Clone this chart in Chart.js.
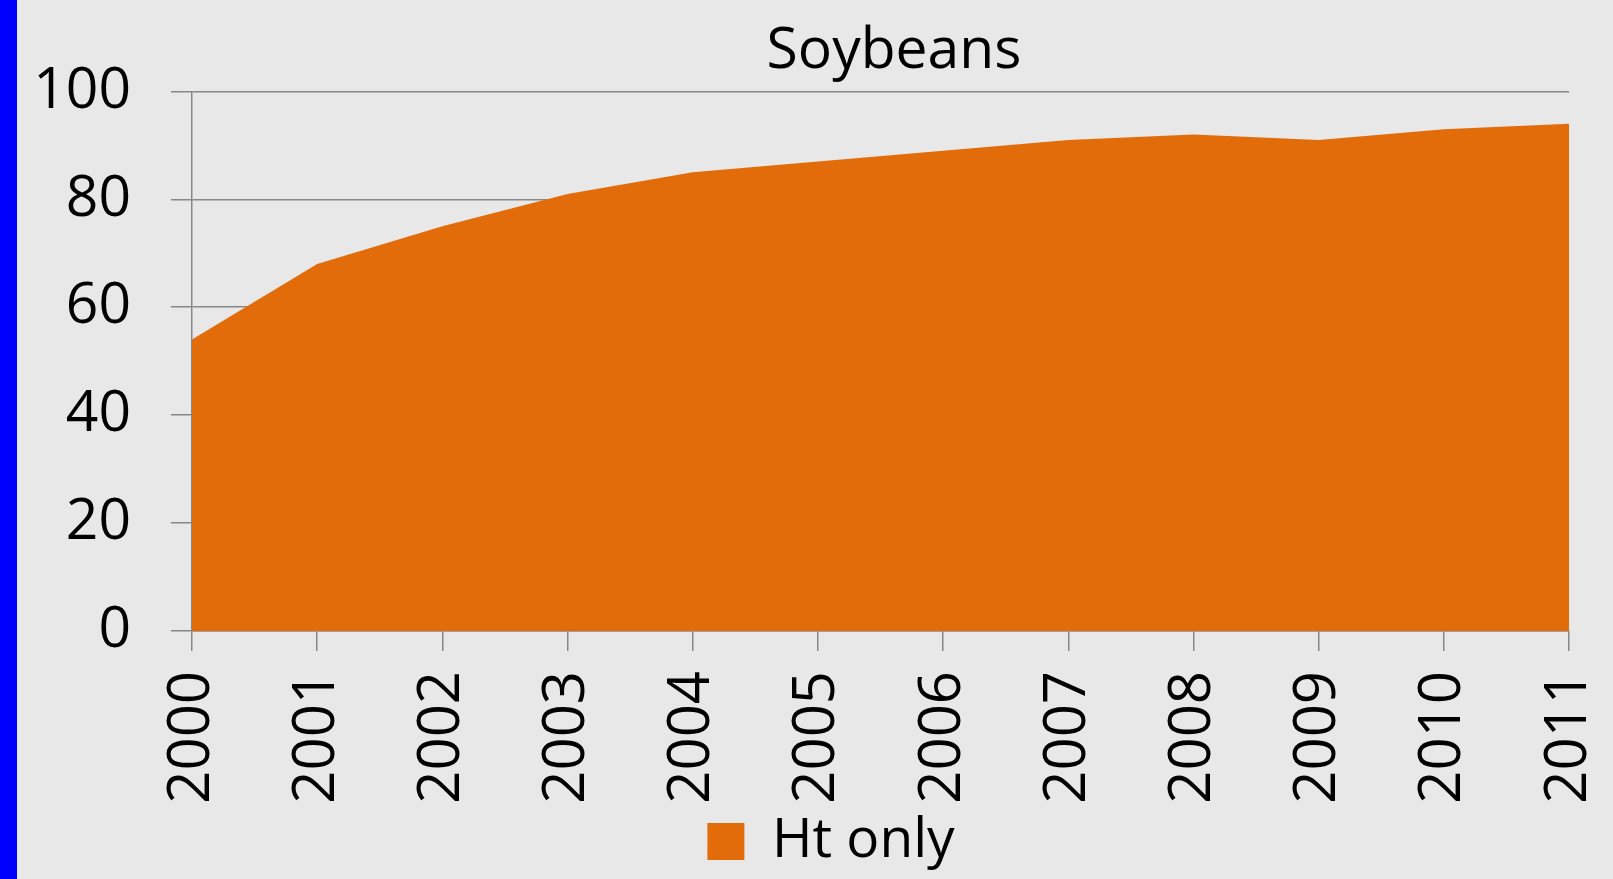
<!DOCTYPE html>
<html lang="en">
<head>
    <meta charset="UTF-8">
    <title>Soybeans</title>
    <script src="https://cdn.jsdelivr.net/npm/chart.js"></script>
    <style>
        body {
            margin: 0;
            background: #e8e8e8;
            font-family: 'Open Sans', sans-serif;
            overflow: hidden;
        }

        .side-bar {
            position: absolute;
            left: 0;
            top: 0;
            width: 17px;
            height: 879px;
            background: #0000ff;
        }

        .chart-container {
            position: absolute;
            left: 17px;
            top: 0;
            width: 1596px;
            height: 879px;
        }
    </style>
</head>
<body>
    <div class="side-bar"></div>
    <div class="chart-container">
        <canvas id="soyChart"></canvas>
    </div>

    <script>
        // data
        const years = ['2000', '2001', '2002', '2003', '2004', '2005', '2006', '2007', '2008', '2009', '2010', '2011'];
        const htOnly = [54, 68, 75, 81, 85, 87, 89, 91, 92, 91, 93, 94];
        const seriesName = 'Ht only';
        const chartTitle = 'Soybeans';

        const gridColor = '#878787';
        const fontFamily = "'Open Sans', sans-serif";

        // nudge title and legend sideways, the original is not centred on the canvas
        const shiftBlocks = {
            id: 'shiftBlocks',
            afterLayout(chart) {
                chart.titleBlock.left += 27;
                chart.legend.left = 76;
            }
        };

        const ctx = document.getElementById('soyChart').getContext('2d');

        const chart = new Chart(ctx, {
            type: 'line',
            data: {
                labels: years,
                datasets: [{
                    label: seriesName,
                    data: htOnly,
                    backgroundColor: '#e36c0a',
                    borderColor: '#e36c0a',
                    borderWidth: 0,
                    pointRadius: 0,
                    fill: 'origin',
                    tension: 0
                }]
            },
            options: {
                responsive: true,
                maintainAspectRatio: false,
                animation: false,
                layout: {
                    padding: { left: 0, right: 44, top: 0, bottom: 0 }
                },
                plugins: {
                    title: {
                        display: true,
                        text: chartTitle,
                        fullSize: false,
                        color: '#000',
                        font: { family: fontFamily, size: 57, weight: 'normal' },
                        padding: { top: 18, bottom: 5 }
                    },
                    legend: {
                        position: 'bottom',
                        labels: {
                            color: '#000',
                            font: { family: fontFamily, size: 55 },
                            boxWidth: 37,
                            boxHeight: 37,
                            padding: 7
                        }
                    },
                    tooltip: { enabled: false }
                },
                scales: {
                    x: {
                        grid: {
                            drawOnChartArea: false,
                            drawTicks: true,
                            tickLength: 20,
                            color: gridColor,
                            lineWidth: 1.5
                        },
                        border: { display: true, color: gridColor, width: 1.5 },
                        ticks: {
                            color: '#000',
                            font: { family: fontFamily, size: 58 },
                            minRotation: 90,
                            maxRotation: 90,
                            padding: 20,
                            autoSkip: false
                        },
                        afterFit: function(scale) {
                            scale.height = 176;
                            scale.paddingLeft = 0;
                            scale.paddingRight = 0;
                        }
                    },
                    y: {
                        min: 0,
                        max: 100,
                        grid: {
                            color: gridColor,
                            lineWidth: 1.5,
                            tickLength: 21
                        },
                        border: { display: true, color: gridColor, width: 1.5 },
                        ticks: {
                            stepSize: 20,
                            color: '#000',
                            font: { family: fontFamily, size: 57 },
                            padding: 40
                        },
                        afterFit: function(scale) {
                            scale.width = 175;
                        }
                    }
                }
            },
            plugins: [shiftBlocks]
        });
    </script>
</body>
</html>
